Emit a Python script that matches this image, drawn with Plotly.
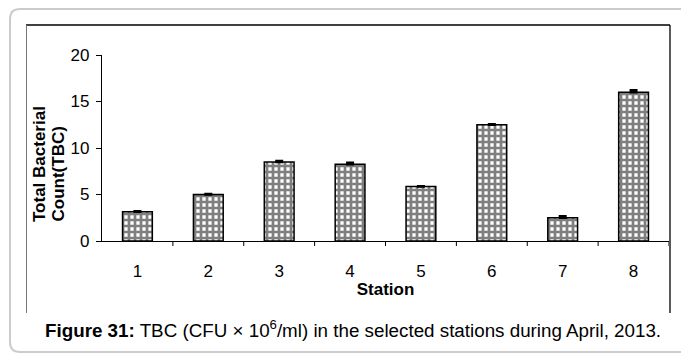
import plotly.graph_objects as go

stations = ["1", "2", "3", "4", "5", "6", "7", "8"]
tbc = [3.15, 5.0, 8.5, 8.25, 5.85, 12.5, 2.5, 16.0]
tbc_err = [0.05, 0.05, 0.1, 0.17, 0.05, 0.05, 0.15, 0.2]
y_ticks = [0, 5, 10, 15, 20]

W, H = 681, 356
L, R, T, B = 102, 12, 55, 115
PW, PH = W - L - R, H - T - B


def px(x):
    return (x - L) / PW


def py(y):
    return (H - B - y) / PH


fig = go.Figure()
fig.add_trace(go.Bar(
    x=stations, y=tbc,
    width=0.42,
    marker=dict(
        color="white",
        line=dict(color="black", width=1.5),
        pattern=dict(shape="+", fgcolor="#000", bgcolor="#fff", size=6, solidity=0.7),
    ),
    error_y=dict(type="data", array=tbc_err, symmetric=False, arrayminus=[0]*8,
                 color="black", thickness=2.5, width=4),
    showlegend=False,
))

shapes = []
# outer gray rounded border
r = 10
x0, y0, x1, y1 = 10, 9, 700, 352
path = (f"M {px(x0)},{py(y0 + r)} Q {px(x0)},{py(y0)} {px(x0 + r)},{py(y0)} "
        f"L {px(x1)},{py(y0)} "
        f"M {px(x0)},{py(y0 + r)} L {px(x0)},{py(y1 - r)} "
        f"Q {px(x0)},{py(y1)} {px(x0 + r)},{py(y1)} L {px(x1)},{py(y1)}")
shapes.append(dict(type="path", xref="paper", yref="paper", path=path,
                   line=dict(color="#cccccc", width=2)))
# inner chart box (open bottom)
shapes.append(dict(type="line", xref="paper", yref="paper",
                   x0=px(26), y0=py(25), x1=px(670), y1=py(25),
                   line=dict(color="black", width=1.3)))
shapes.append(dict(type="line", xref="paper", yref="paper",
                   x0=px(670), y0=py(25), x1=px(670), y1=py(313),
                   line=dict(color="black", width=1.3)))
shapes.append(dict(type="line", xref="paper", yref="paper",
                   x0=px(26.5), y0=py(25), x1=px(26.5), y1=py(313),
                   line=dict(color="#777", width=1)))
# category boundary ticks on x-axis
for i in range(1, 9):
    shapes.append(dict(type="line", xref="x", yref="paper",
                       x0=i - 0.5, x1=i - 0.5, y0=0, y1=py(246),
                       line=dict(color="black", width=1)))

fig.update_layout(
    width=W, height=H,
    margin=dict(l=L, r=R, t=T, b=B),
    paper_bgcolor="white", plot_bgcolor="white",
    shapes=shapes,
    font=dict(family="Liberation Sans, Arial", color="black"),
    xaxis=dict(
        range=[-0.5, 7.5], showline=True, linecolor="black", linewidth=1.2,
        ticks="", showgrid=False, zeroline=False,
        tickfont=dict(size=17), ticklabelstandoff=14,
        title=dict(text="<b>Station</b>", font=dict(size=17), standoff=3),
    ),
    yaxis=dict(
        range=[0, 20], tickvals=y_ticks, showline=True, linecolor="black", linewidth=1.2,
        ticks="outside", ticklen=5, tickcolor="black", showgrid=False, zeroline=False,
        tickfont=dict(size=17), ticklabelstandoff=3,
    ),
    annotations=[
        dict(
            xref="paper", yref="paper", x=px(39), y=py(224), xanchor="center", yanchor="bottom",
            showarrow=False, textangle=-90,
            text="<b>Total Bacterial</b>",
            font=dict(size=17, color="black"),
        ),
        dict(
            xref="paper", yref="paper", x=px(58), y=py(224), xanchor="center", yanchor="bottom",
            showarrow=False, textangle=-90,
            text="<b>Count(TBC)</b>",
            font=dict(size=17, color="black"),
        ),
        dict(
            xref="paper", yref="paper", x=px(43), y=py(329), xanchor="left", yanchor="middle",
            showarrow=False,
            text="<b>Figure 31:</b> TBC (CFU × 10<sup>6</sup>/ml) in the selected stations during April, 2013.",
            font=dict(size=18.8, color="black"),
        ),
    ],
)

fig.write_html("out.html", config={"displayModeBar": False},
               post_script="document.body.style.margin='0';")
